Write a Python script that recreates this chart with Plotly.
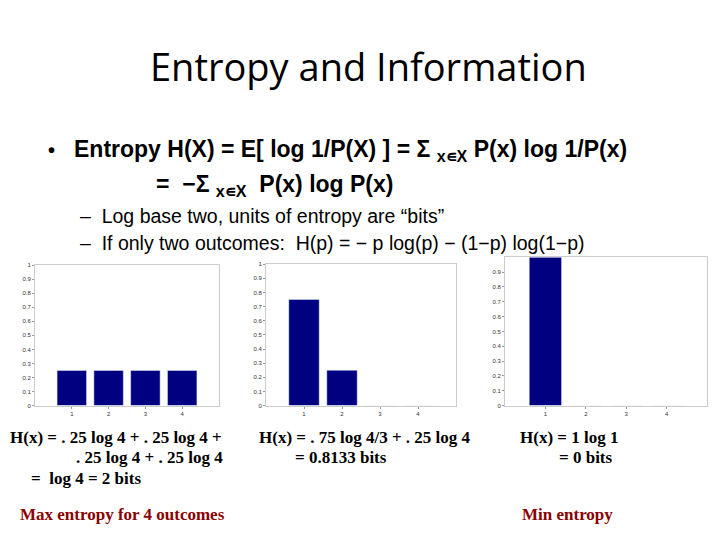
import plotly.graph_objects as go

outcomes = [1, 2, 3, 4]
p_uniform = [0.25, 0.25, 0.25, 0.25]
p_skewed = [0.75, 0.25, 0, 0]
p_certain = [1, 0, 0, 0]
yticks = [0, 0.1, 0.2, 0.3, 0.4, 0.5, 0.6, 0.7, 0.8, 0.9, 1]
ytick_labels = ["0", "0.1", "0.2", "0.3", "0.4", "0.5", "0.6", "0.7", "0.8", "0.9", "1"]

W, H = 720, 540
def px(x): return x / W
def py(y): return 1 - y / H

fig = go.Figure()
panels = [
    (p_uniform, (27, 211), (257, 399), 11),
    (p_skewed, (258, 448), (256, 399), 11),
    (p_certain, (497, 699), (249, 399), 10),
]
for i, (vals, xs, ys, nt) in enumerate(panels, start=1):
    sx = "" if i == 1 else str(i)
    fig.add_trace(go.Bar(x=outcomes, y=vals, marker_color="#000080", width=0.8,
                         xaxis="x" + sx, yaxis="y" + sx, showlegend=False))
    common = dict(showgrid=False, zeroline=False, showline=True, mirror=True,
                  linecolor="#cccccc", linewidth=1, ticks="outside", ticklen=2,
                  tickcolor="#999999", tickfont=dict(size=6, color="#333", family="Liberation Sans"))
    fig.layout["xaxis" + sx] = dict(domain=[px(xs[0]), px(xs[1])], range=[0, 5],
                                    tickvals=outcomes, anchor="y" + sx, **common)
    fig.layout["yaxis" + sx] = dict(domain=[py(ys[1]), py(ys[0])], range=[0, 1],
                                    tickvals=yticks[:nt], ticktext=ytick_labels[:nt],
                                    anchor="x" + sx, **common)

def txt(x, y, s, size, family="Liberation Sans", color="black", xanchor="left", bold=False):
    if bold:
        s = "<b>" + s + "</b>"
    fig.add_annotation(x=px(x), y=py(y), xref="paper", yref="paper", text=s, showarrow=False,
                       xanchor=xanchor, yanchor="middle", font=dict(size=size, family=family, color=color))

txt(360, 56, "Entropy and Information", 38, family="Open Sans", xanchor="center")
txt(38, 141, "•", 20, bold=True)
txt(64, 141, "Entropy H(X) = E[ log 1/P(X) ] = Σ <sub>x∊X</sub> P(x) log 1/P(x)", 23, bold=True)
txt(146, 176, "=  −Σ <sub>x∊X</sub>  P(x) log P(x)", 23, bold=True)
txt(70, 207, "–  Log base two, units of entropy are “bits”", 19.5)
txt(70, 235, "–  If only two outcomes:  H(p) = − p log(p) − (1−p) log(1−p)", 19.5)

serif = "Liberation Serif"
fs = 17
txt(0, 431, "H(x) = . 25 log 4 + . 25 log 4 +", fs, family=serif, bold=True)
txt(66, 452, ". 25 log 4 + . 25 log 4", fs, family=serif, bold=True)
txt(21, 473, "=  log 4 = 2 bits", fs, family=serif, bold=True)
txt(10, 509, "Max entropy for 4 outcomes", fs, family=serif, color="#8b0000", bold=True)
txt(249, 431, "H(x) = . 75 log 4/3 + . 25 log 4", fs, family=serif, bold=True)
txt(285, 452, "= 0.8133 bits", fs, family=serif, bold=True)
txt(510, 431, "H(x) = 1 log 1", fs, family=serif, bold=True)
txt(549, 452, "= 0 bits", fs, family=serif, bold=True)
txt(512, 509, "Min entropy", fs, family=serif, color="#8b0000", bold=True)

fig.update_layout(width=W, height=H, margin=dict(l=0, r=0, t=0, b=0),
                  paper_bgcolor="white", plot_bgcolor="white", bargap=0.2)
fig.write_html("out.html")
